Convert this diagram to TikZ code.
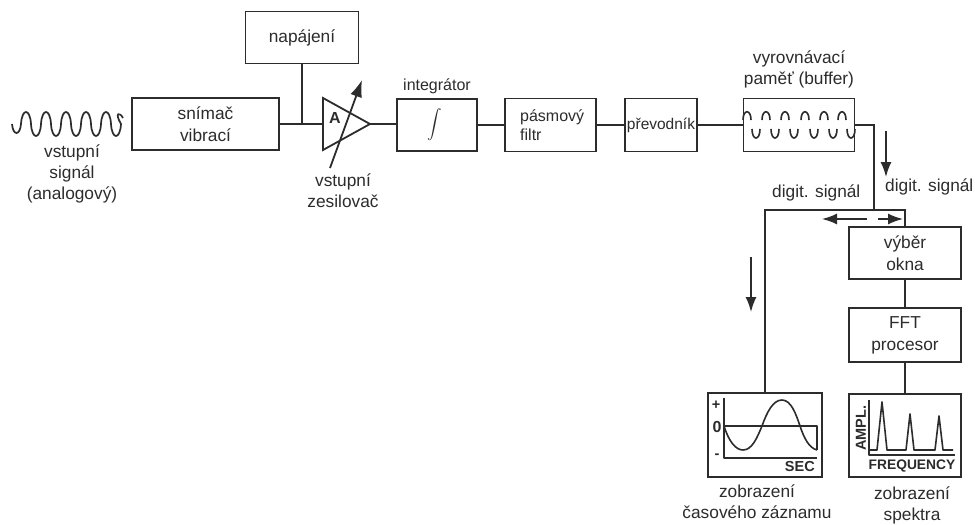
\documentclass[tikz,border=0pt]{standalone}
\usepackage{fontspec}
\usepackage{graphicx}
\setmainfont{Liberation Sans}
\usetikzlibrary{arrows.meta,calc}
\definecolor{ink}{HTML}{2C2C2C}
\tikzset{
  blockbox/.style={draw=ink,line width=1.8pt,fill=white,inner sep=0pt,align=center,text=ink,font=\fontsize{17.3}{22}\selectfont},
  wire/.style={draw=ink,line width=1.8pt},
  label/.style={inner sep=0pt,align=center,text=ink,font=\fontsize{17.3}{21}\selectfont},
  smalllabel/.style={inner sep=0pt,align=center,text=ink,font=\fontsize{16}{19}\selectfont},
  flow/.style={draw=ink,line width=1.6pt,-{Latex[length=15pt,width=11pt]}},
  plotline/.style={draw=ink,line width=1.6pt,line join=round},
  tag/.style={inner sep=0pt,text=ink,font=\fontsize{14.5}{14.5}\selectfont\bfseries},
}
\begin{document}
\begin{tikzpicture}[x=1pt,y=-1pt]
\path[use as bounding box,fill=white] (0,0) rectangle (975,525);

% input wave
\draw[ink,line width=1.7pt] (12,124)
  .. controls (13,136) and (20,136) .. (21,124)
  foreach \k in {0,...,4} {
    .. controls ({21+\k*20+1},108) and ({21+\k*20+9},108) .. ({31+\k*20},124)
    .. controls ({31+\k*20+1},140) and ({31+\k*20+9},140) .. ({41+\k*20},124)
  }
  .. controls (114,112) and (120,112) .. (123,118);
\node[label] (insig) at (72,174) {vstupní\\signál\\(analogový)};

% blocks
\node[blockbox,minimum width=113pt,minimum height=52pt] (nap) at (302,37.5) {napájení};
\node[blockbox,minimum width=147pt,minimum height=52pt] (snim) at (205.5,124) {\raisebox{-1pt}{snímač}\\\raisebox{-1pt}{vibrací}};
\node[blockbox,minimum width=80pt,minimum height=52pt] (integ) at (437,125) {};
\node[inner sep=0pt,text=ink] (integsym) at (435,125) {\scalebox{1.45}{$\displaystyle\int$}};
\node[smalllabel] (integlab) at (437,86) {integrátor};
\node[blockbox,minimum width=91pt,minimum height=53pt] (filt) at (550.5,125) {};
\node[smalllabel,align=left,anchor=west] (filtlab) at (520,125) {pásmový\\filtr};
\node[blockbox,minimum width=72pt,minimum height=53pt,font=\fontsize{15.5}{19}\selectfont] (prev) at (661,125) {převodník};
\node[blockbox,minimum width=111pt,minimum height=53pt] (buf) at (799,125) {};
\node[label] (buflab) at (799,69.5) {vyrovnávací\\paměť (buffer)};
\foreach \i/\x in {0/747,1/766,2/785,3/805,4/824,5/842}{
  \draw[ink,line width=1.6pt] (\x-4,120) .. controls (\x-4,109) and (\x+4,109) .. (\x+4,120);
}
\foreach \i/\x in {0/756,1/775,2/794,3/814,4/833,5/851}{
  \draw[ink,line width=1.6pt] (\x-4,129) .. controls (\x-4,141) and (\x+4,141) .. (\x+4,129);
}

% amplifier
\coordinate (ampa) at (323,98);
\coordinate (ampb) at (323,150);
\coordinate (ampc) at (370,124);
\coordinate (ampin) at (323,124);
\draw[wire,line join=miter,fill=white] (ampa) -- (ampc) -- (ampb) -- cycle;
\node[inner sep=0pt,text=ink,font=\fontsize{16}{16}\selectfont\bfseries] (ampA) at (335,118) {A};
\coordinate (gaina) at (330,168);
\coordinate (gainb) at (362,80);
\draw[ink,line width=1.8pt,-{Latex[length=17pt,width=12pt]}] (gaina) -- (gainb);
\node[label] (amplab) at (343,191) {vstupní\\zesilovač};

% chain wires
\coordinate (tee) at (nap.south |- snim.east);
\draw[wire] (snim.east) -- (ampin);
\draw[wire] (nap.south) -- (tee);
\draw[wire] (ampc) -- (integ.west |- ampc);
\draw[wire] (integ.east) -- (filt.west);
\draw[wire] (filt.east) -- (prev.west);
\draw[wire] (prev.east) -- (buf.west);

% digital part
\node[blockbox,minimum width=112pt,minimum height=52pt] (okno) at (905,253) {výběr\\okna};
\node[blockbox,minimum width=112pt,minimum height=54pt] (fft) at (905,335) {FFT\\procesor};
\node[draw=ink,line width=1.8pt,inner sep=0pt,minimum width=114pt,minimum height=84pt] (tdisp) at (765,435) {};
\node[draw=ink,line width=1.8pt,inner sep=0pt,minimum width=112pt,minimum height=83pt] (fdisp) at (905,435.5) {};
\coordinate (busL) at (tdisp.north |- 0,210);
\coordinate (busR) at (okno.north |- 0,210);
\coordinate (busT) at (874,210);
\coordinate (bufturn) at (874,125);
\draw[wire] (buf.east) -- (bufturn) -- (busT);
\draw[wire] (tdisp.north) -- (busL) -- (busR) -- (okno.north);
\draw[wire] (okno.south) -- (fft.north);
\draw[wire] (fft.south) -- (fdisp.north);

% arrows
\coordinate (a1s) at (886,131);
\coordinate (a1e) at (886,177);
\draw[flow] (a1s) -- (a1e);
\coordinate (a2s) at (867,219);
\coordinate (a2e) at (822,219);
\draw[flow] (a2s) -- (a2e);
\coordinate (a3s) at (878,219);
\coordinate (a3e) at (903,219);
\draw[flow] (a3s) -- (a3e);
\coordinate (a4s) at (751,257);
\coordinate (a4e) at (751,312);
\draw[flow] (a4s) -- (a4e);
\node[label,anchor=west] (dig1) at (885,187) {digit. signál};
\node[label,anchor=west] (dig2) at (772,193) {digit. signál};

% time display
\draw[plotline] (724,398) -- (724,458) -- (817,458);
\draw[plotline] (724,426) -- (817,426) -- (817,450);
\draw[plotline] (724,426) .. controls (729,442) and (736,450) .. (743,450)
  .. controls (752,450) and (757,438) .. (762,426)
  .. controls (767,412) and (773,400) .. (782,400)
  .. controls (791,400) and (796,414) .. (800,426)
  .. controls (804,438) and (809,448) .. (817,450);
\node[tag] (tplus) at (716,405) {+};
\node[tag,font=\fontsize{16}{16}\selectfont\bfseries] (tzero) at (717,427) {0};
\node[tag] (tminus) at (717,456) {-};
\node[tag,anchor=east] (tsec) at (815,467) {SEC};
\node[label] (tlab) at (757,502) {zobrazení\\časového záznamu};

% spectrum display
\draw[plotline] (869,400) -- (869,455) -- (955,455);
\draw[plotline] (869,450) -- (877,450) -- (882,402) -- (887,450) -- (906,450)
  -- (910,414) -- (914,450) -- (935,450) -- (939,416) -- (943,450) -- (953,450);
\node[tag,rotate=90] (famp) at (861,428) {AMPL.};
\node[tag,font=\fontsize{13.8}{14}\selectfont\bfseries] (ffreq) at (912,466) {FREQUENCY};
\node[label] (flab) at (912,505.5) {zobrazení\\spektra};
\end{tikzpicture}
\end{document}
